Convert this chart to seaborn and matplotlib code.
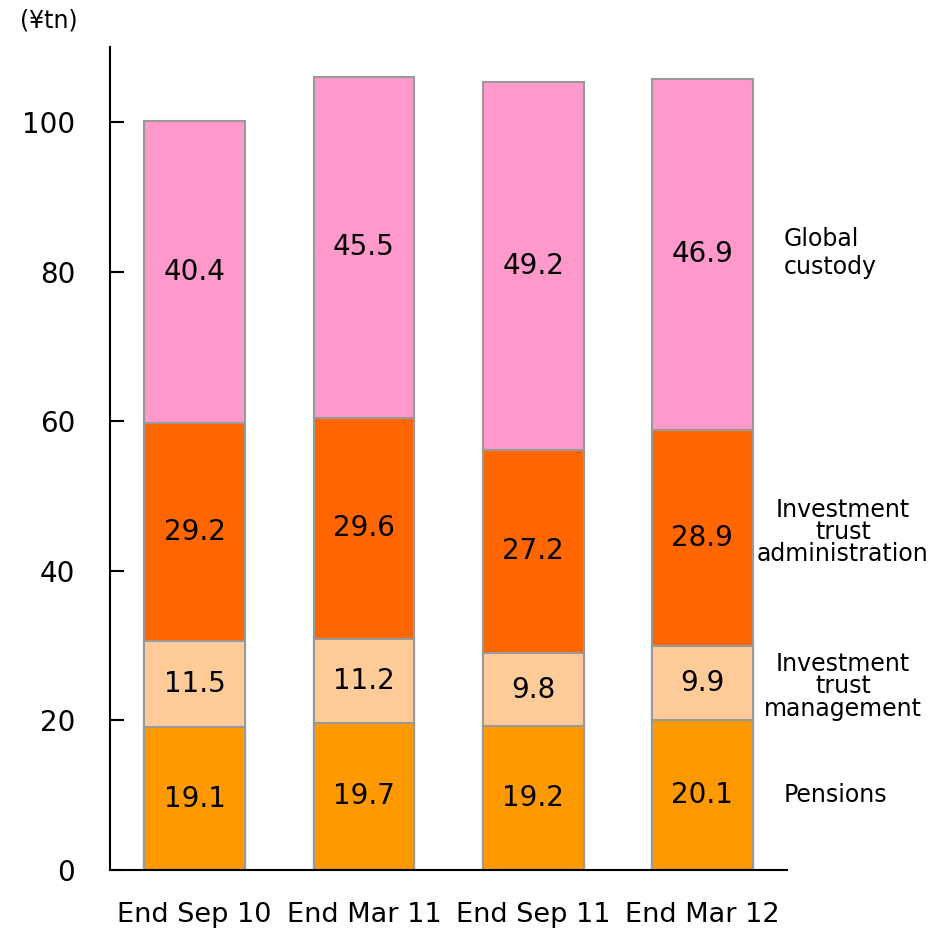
import numpy as np
import pandas as pd
import matplotlib
matplotlib.use("Agg")
import matplotlib.pyplot as plt
import seaborn as sns

periods = ["End Sep 10", "End Mar 11", "End Sep 11", "End Mar 12"]
segments = ["Pensions", "Investment trust management",
            "Investment trust administration", "Global custody"]
pensions = [19.1, 19.7, 19.2, 20.1]
it_management = [11.5, 11.2, 9.8, 9.9]
it_administration = [29.2, 29.6, 27.2, 28.9]
global_custody = [40.4, 45.5, 49.2, 46.9]

colors = ["#FF9900", "#FFCC99", "#FF6600", "#FF99CC"]
side_labels = ["Pensions", "Investment\ntrust\nmanagement",
               "Investment\ntrust\nadministration", "Global\ncustody"]

sns.set_style("white")
plt.rcParams["font.family"] = ["DejaVu Sans"]
plt.rcParams["text.color"] = "black"
plt.rcParams["xtick.color"] = "black"
plt.rcParams["ytick.color"] = "black"

values = np.array([pensions, it_management, it_administration, global_custody])
tops = values.cumsum(axis=0)
bottoms = tops - values

fig = plt.figure(figsize=(9.41, 9.30), dpi=100)
ax = fig.add_axes([0.1169, 0.0645, 0.7195, 0.8845])

# draw cumulative totals from the top down so each segment shows
for i in reversed(range(len(segments))):
    df = pd.DataFrame({"period": periods, "top": tops[i]})
    sns.barplot(data=df, x="period", y="top", color=colors[i], saturation=1,
                width=0.595, edgecolor="#999999", linewidth=1.5, ax=ax)

for i in range(len(segments)):
    for j in range(len(periods)):
        ax.text(j, bottoms[i, j] + values[i, j] / 2, f"{values[i, j]:.1f}",
                ha="center", va="center", fontsize=20)

# series names to the right of the last bar
side_y = [10, 24.6, 45.2, 82.5]
side_x = [3.48, 3.83, 3.83, 3.48]
side_ha = ["left", "center", "center", "left"]
side_ls = [1.2, 0.92, 0.92, 1.25]
for lab, y, x, ha, ls in zip(side_labels, side_y, side_x, side_ha, side_ls):
    ax.text(x, y, lab, ha=ha, va="center", fontsize=17, linespacing=ls,
            clip_on=False)

ax.set_xlim(-0.5, 3.5)
ax.set_ylim(0, 110)
ax.set_yticks([0, 20, 40, 60, 80, 100])
ax.set_xlabel("")
ax.set_ylabel("")
ax.set_xticks(range(len(periods)))
ax.set_xticklabels(periods)
ax.set_xticks([0.5, 1.5, 2.5, 3.5], minor=True)
ax.tick_params(axis="x", which="major", length=0, pad=23, labelsize=19.5)
ax.tick_params(axis="x", which="minor", direction="in", length=10, width=1.5)
ax.tick_params(axis="y", direction="in", length=10, width=1.5, pad=25,
               labelsize=20, left=True)
for side in ["top", "right"]:
    ax.spines[side].set_visible(False)
for side in ["left", "bottom"]:
    ax.spines[side].set_color("black")
    ax.spines[side].set_linewidth(1.5)

fig.text(0.021, 0.978, "(¥tn)", fontsize=17, ha="left", va="center")

fig.savefig("out.png", dpi=100)
